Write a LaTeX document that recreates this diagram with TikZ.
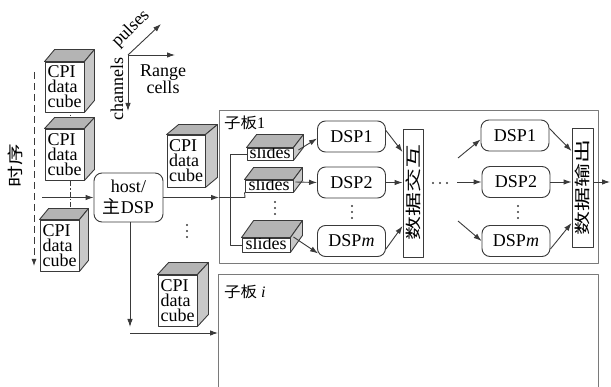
\documentclass[tikz,border=0pt]{standalone}
\usepackage{fontspec}
\setmainfont{Liberation Serif}
\newfontfamily\cjk{Noto Sans CJK SC}
\usetikzlibrary{arrows.meta}
\definecolor{linec}{HTML}{3A3A3A}
\definecolor{topgray}{HTML}{B4B4B4}
\definecolor{sidegray}{HTML}{C8C8C8}
\definecolor{boardc}{HTML}{7A7A7A}
\newcommand\mkfaces[3]{%
  \filldraw[ln, fill=topgray] (#1.north west) -- ++(#2,#3) -- ([shift={(#2,#3)}]#1.north east) -- (#1.north east) -- cycle;
  \filldraw[ln, fill=sidegray] (#1.north east) -- ++(#2,#3) -- ([shift={(#2,#3)}]#1.south east) -- (#1.south east) -- cycle;}
\newcommand\dotsv[2]{\fill[linec] (#1,#2-6) circle (1.1pt) (#1,#2) circle (1.1pt) (#1,#2+6) circle (1.1pt);}
\newcommand\dotsh[2]{\fill[linec] (#1-7,#2) circle (1.1pt) (#1,#2) circle (1.1pt) (#1+7,#2) circle (1.1pt);}
\begin{document}
\begin{tikzpicture}[x=1pt,y=-1pt, line join=round,
  every node/.style={font=\fontsize{18}{15}\selectfont},
  ln/.style={draw=linec, line width=0.9pt},
  arr/.style={ln, -{Latex[length=8pt,width=5.5pt]}},
  front/.style={ln, fill=white, inner sep=0pt, align=left},
  slidebox/.style={ln, fill=white, inner sep=0pt, font=\fontsize{18}{15}\selectfont, text height=10.5pt, text depth=0.5pt},
  dspbox/.style={ln, fill=white, rounded corners=8pt, minimum width=68pt, minimum height=31pt, inner sep=0pt},
  vbox/.style={ln, fill=white, inner sep=0pt},
  board/.style={draw=boardc, line width=1pt, inner sep=0pt, anchor=north west},
  cjkv/.style={rotate=90, inner sep=0pt, font=\cjk\fontsize{16}{16}\selectfont},
]
\useasboundingbox (0,0) rectangle (611,387);
\clip (0,0) rectangle (611,387);

% boards
\node[board, minimum width=379pt, minimum height=153pt] (b1) at (219,110) {};
\node[board, minimum width=380pt, minimum height=140pt] (bi) at (218,274) {};
\node[anchor=west, inner sep=0pt, font=\fontsize{16}{16}\selectfont] (b1l) at (224,123) {\scalebox{1.1}[1]{\cjk\fontsize{15}{15}\selectfont 子板}1};
\node[anchor=west, inner sep=0pt, font=\fontsize{16}{16}\selectfont] (bil) at (224,292) {\scalebox{1.1}[1]{\cjk\fontsize{15}{15}\selectfont 子板} \textit{i}};

% time axis
\coordinate (t0) at (34,72);
\coordinate (t1) at (34,266);
\draw[ln, dash pattern=on 7pt off 4pt, -{Latex[length=7pt,width=5pt]}] (t0) -- (t1);
\node[cjkv] (ts) at (15,166) {\scalebox{1.35}[1]{时序}};

% dash-dot link behind cubes
\coordinate (k0) at (70,108);
\coordinate (k1) at (70,212);
\draw[ln, dash pattern=on 5pt off 2pt on 1.5pt off 2pt] (k0) -- (k1);

% cubes
\node[front, minimum width=39pt, minimum height=50pt] (c1) at (64.5,87) {CPI\\data\\cube};
\mkfaces{c1}{10}{-12}
\node[front, minimum width=39pt, minimum height=51pt] (c2) at (64.5,154.5) {CPI\\data\\cube};
\mkfaces{c2}{10}{-11}
\node[front, minimum width=39pt, minimum height=51pt] (c3) at (59.5,245.5) {CPI\\data\\cube};
\mkfaces{c3}{9}{-11}
\node[front, minimum width=38pt, minimum height=52pt] (c4) at (186,161) {CPI\\data\\cube};
\mkfaces{c4}{12}{-10}
\node[front, minimum width=39pt, minimum height=51pt] (c5) at (177.5,300.5) {CPI\\data\\cube};
\mkfaces{c5}{11}{-12}

% axes
\coordinate (O) at (128,55);
\coordinate (ax) at (175,55);
\coordinate (ay) at (128,111);
\coordinate (az) at (161,24);
\draw[arr] (O) -- (ax);
\draw[arr] (O) -- (ay);
\draw[arr] (O) -- (az);
\node[align=center, inner sep=0pt, font=\fontsize{18}{17}\selectfont] (rc) at (163,79) {Range\\cells};
\node[rotate=90, inner sep=0pt] (ch) at (117,89) {channels};
\node[rotate=45, inner sep=0pt] (pu) at (131,29) {pulses};

% host
\node[ln, fill=white, rounded corners=8pt, minimum width=69pt, minimum height=49pt, inner sep=0pt, align=center, font=\fontsize{18}{21}\selectfont] (host) at (128.5,197.5) {host/\\{\cjk 主}DSP};
\coordinate (in0) at (42,197.5);
\draw[arr] (in0) -- (host.west);
\draw[arr] (host.east) -- (host.east -| b1.west);
\coordinate (hd) at (130,327);
\coordinate (hb) at (130,333);
\draw[arr] (host.south -| hd) -- (hd);
\draw[arr] (hb) -- (hb -| bi.west);
\dotsv{187}{231}

% slides
\node[slidebox, minimum width=46pt, minimum height=12pt] (s1) at (270,154) {slides};
\mkfaces{s1}{10}{-13}
\node[slidebox, minimum width=48pt, minimum height=12pt] (s2) at (269,186) {slides};
\mkfaces{s2}{9}{-12}
\node[slidebox, minimum width=48pt, minimum height=14pt] (sm) at (266,245) {slides};
\mkfaces{sm}{12}{-17}
\dotsv{275}{208}

\coordinate (vx) at (230,0);
\coordinate (f1) at (245,197.5);
\draw[ln] (host.east -| b1.west) -- (f1) -- (s2.south west);
\draw[ln] (s1.west) -- (s1.west -| vx) -- (sm.west -| vx) -- (sm.west);

% DSP group 1
\node[dspbox] (d1a) at (351.5,136.5) {DSP1};
\node[dspbox] (d2a) at (351.5,182.5) {DSP2};
\node[dspbox] (dma) at (351.5,241) {DSP\textit{m}};
\dotsv{352}{212}
\draw[arr] ([shift={(5,-4)}]s1.east) -- ([shift={(0,2)}]d1a.west);
\draw[arr] ([shift={(2,-4)}]s2.east) -- (d2a.west);
\draw[arr] ([shift={(3,-8)}]sm.east) -- ([shift={(1,-3.5)}]dma.south west);

\node[vbox, minimum width=20pt, minimum height=128pt] (vx1) at (413,193) {};
\node[cjkv] (vx1t) at (vx1) {\scalebox{1.5}[1]{数据交互}};
\draw[arr] ([shift={(0,-6)}]d1a.east) -- (vx1.west |- 0,152);
\draw[arr] (d2a.east) -- (d2a.east -| vx1.west);
\draw[arr] ([shift={(0,8)}]dma.east) -- (vx1.west |- 0,226);

\dotsh{440}{183}

% DSP group 2
\node[dspbox] (d1b) at (515,135.5) {DSP1};
\node[dspbox] (d2b) at (516,182) {DSP2};
\node[dspbox] (dmb) at (516,241) {DSP\textit{m}};
\dotsv{518}{212}
\coordinate (r1) at (458,158);
\coordinate (r2) at (457,182);
\coordinate (r3) at (458,221);
\draw[arr] (r1) -- ([shift={(0,4)}]d1b.west);
\draw[arr] (r2) -- (r2 -| d2b.west);
\draw[arr] (r3) -- (dmb.west);

\node[vbox, minimum width=21pt, minimum height=119pt] (vx2) at (582.5,187.5) {};
\node[cjkv] (vx2t) at (vx2) {\scalebox{1.5}[1]{数据输出}};
\draw[arr] ([shift={(0,-7)}]d1b.east) -- (vx2.west |- 0,151);
\draw[arr] (d2b.east) -- (d2b.east -| vx2.west);
\draw[arr] ([shift={(0,8)}]dmb.east) -- (vx2.west |- 0,223);
\coordinate (out) at (610,182);
\draw[arr] (vx2.east |- out) -- (out);
\end{tikzpicture}
\end{document}
